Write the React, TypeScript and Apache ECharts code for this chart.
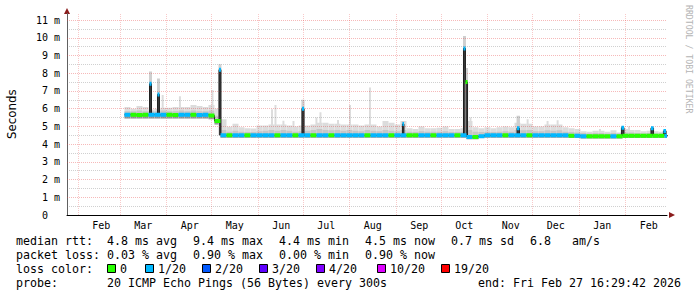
import React, { useEffect, useRef } from 'react';
import * as echarts from 'echarts';

// x values are days since 2025-01-01
const X_MIN = 23.67;
const X_MAX = 423.67;
const Y_MAX = 11.38;

const monthNames = ['Feb', 'Mar', 'Apr', 'May', 'Jun', 'Jul', 'Aug', 'Sep', 'Oct', 'Nov', 'Dec', 'Jan', 'Feb'];
const monthStarts = [31, 59, 90, 120, 151, 181, 212, 243, 273, 304, 334, 365, 396];
const MONTH_LABEL_OFFSET = 15.5;

const yMajor = [0, 1, 2, 3, 4, 5, 6, 7, 8, 9, 10, 11];
const yMinor = [0.5, 1.5, 2.5, 3.5, 4.5, 5.5, 6.5, 7.5, 8.5, 9.5, 10.5];

// 4-day buckets starting at day 62 (early March 2025); values in ms
const BUCKET0 = 62;
const BUCKET_DAYS = 4;

const smokeHi = [
  6.1, 6.0, 6.15, 6.1, 5.95, 6.0, 6.05, 6.05, 6.1, 6.1, 6.1, 6.2, 6.15, 6.1, 6.2, 6.0,
  5.4, 4.98, 5.15, 4.95, 4.9, 4.88, 5.05, 5.05, 5.1, 5.1, 5.1, 5.05, 5.0, 5.05, 5.05, 5.1,
  5.2, 5.2, 5.15, 5.15, 5.1, 5.1, 5.1, 5.05, 5.1, 5.1, 5.0, 5.3, 5.2, 5.1, 5.3, 4.9,
  4.85, 5.0, 4.9, 4.9, 4.92, 5.0, 4.85, 4.85, 4.9, 5.3, 4.95, 4.9, 4.95, 4.9, 4.95, 5.0,
  4.95, 5.2, 5.15, 5.15, 5.0, 5.0, 5.1, 5.1, 5.1, 4.95, 4.9, 4.85, 4.72, 4.7, 4.75, 4.75,
  4.7, 4.78, 4.65, 4.85, 4.8, 4.8, 4.72, 4.75, 4.72, 4.7, 4.75,
];
const smokeMid = [
  5.85, 5.85, 5.9, 5.85, 5.85, 5.85, 5.9, 5.85, 5.85, 5.9, 5.85, 5.9, 5.85, 5.85, 5.9, 5.6,
  4.8, 4.7, 4.75, 4.7, 4.68, 4.68, 4.72, 4.75, 4.8, 4.75, 4.8, 4.75, 4.7, 4.72, 4.75, 4.8,
  4.85, 4.8, 4.78, 4.8, 4.75, 4.8, 4.75, 4.72, 4.8, 4.75, 4.72, 4.8, 4.75, 4.72, 4.8, 4.7,
  4.68, 4.72, 4.7, 4.7, 4.7, 4.72, 4.68, 4.68, 4.7, 4.8, 4.7, 4.68, 4.7, 4.68, 4.7, 4.72,
  4.7, 4.8, 4.78, 4.8, 4.72, 4.72, 4.78, 4.75, 4.78, 4.7, 4.68, 4.65, 4.62, 4.6, 4.62, 4.62,
  4.6, 4.62, 4.6, 4.65, 4.65, 4.62, 4.6, 4.62, 4.6, 4.6, 4.62,
];
const smokeLo = [
  5.45, 5.45, 5.45, 5.45, 5.45, 5.45, 5.45, 5.45, 5.45, 5.45, 5.45, 5.45, 5.45, 5.45, 5.4, 5.1,
  4.36, 4.36, 4.36, 4.36, 4.36, 4.36, 4.36, 4.36, 4.36, 4.36, 4.36, 4.36, 4.36, 4.36, 4.36, 4.36,
  4.36, 4.36, 4.36, 4.36, 4.36, 4.36, 4.36, 4.36, 4.36, 4.36, 4.36, 4.36, 4.36, 4.36, 4.36, 4.36,
  4.36, 4.36, 4.36, 4.36, 4.36, 4.36, 4.36, 4.36, 4.36, 4.28, 4.28, 4.34, 4.36, 4.36, 4.36, 4.36,
  4.36, 4.36, 4.36, 4.36, 4.36, 4.36, 4.36, 4.36, 4.36, 4.36, 4.34, 4.34, 4.32, 4.32, 4.32, 4.32,
  4.32, 4.32, 4.32, 4.34, 4.34, 4.34, 4.34, 4.34, 4.34, 4.34, 4.34,
];
const median = [
  5.66, 5.65, 5.64, 5.65, 5.66, 5.65, 5.66, 5.65, 5.64, 5.65, 5.66, 5.65, 5.64, 5.65, 5.62, 5.3,
  4.5, 4.5, 4.5, 4.5, 4.5, 4.5, 4.5, 4.5, 4.5, 4.5, 4.5, 4.5, 4.5, 4.5, 4.5, 4.5,
  4.5, 4.5, 4.5, 4.5, 4.5, 4.5, 4.5, 4.5, 4.5, 4.5, 4.5, 4.5, 4.5, 4.5, 4.5, 4.5,
  4.5, 4.5, 4.5, 4.5, 4.5, 4.5, 4.5, 4.5, 4.5, 4.4, 4.4, 4.45, 4.5, 4.5, 4.5, 4.5,
  4.5, 4.5, 4.5, 4.5, 4.5, 4.5, 4.5, 4.5, 4.5, 4.5, 4.47, 4.47, 4.45, 4.45, 4.45, 4.45,
  4.45, 4.45, 4.45, 4.47, 4.47, 4.47, 4.47, 4.47, 4.47, 4.47, 4.47,
];
// 0 = no loss, 1 = 1/20
const loss = [
  1, 0, 0, 0, 1, 1, 1, 0, 0, 1, 1, 0, 1, 1, 0, 0,
  1, 0, 1, 1, 0, 1, 1, 1, 1, 0, 1, 1, 0, 1, 1, 0,
  1, 1, 0, 1, 1, 1, 1, 1, 0, 1, 1, 1, 0, 1, 1, 0,
  0, 1, 1, 0, 1, 1, 1, 0, 1, 1, 0, 1, 1, 1, 1, 0,
  1, 1, 1, 0, 1, 1, 1, 1, 1, 1, 0, 1, 1, 0, 0, 0,
  0, 1, 0, 0, 0, 0, 0, 0, 0, 0, 1,
];

// short median spikes
const spikeStart = [78.67, 84.0, 125.0, 180.3, 247.3, 288.0, 289.3, 323.7, 393.3, 413.0, 421.3];
const spikeEnd = [80.0, 85.3, 126.3, 181.7, 248.3, 289.3, 290.7, 325.3, 395.0, 414.7, 423.0];
const spikeMedian = [7.4, 6.8, 8.2, 6.0, 5.13, 9.4, 7.5, 4.9, 4.92, 4.9, 4.74];
const spikeSmoke = [8.1, 7.7, 8.5, 6.5, 5.3, 10.1, 8.3, 5.6, 5.0, 4.95, 4.8];
const spikeLoss = [1, 1, 1, 1, 1, 1, 0, 1, 1, 1, 1];

// narrow smoke peaks
const peakStart = [86.8, 98.3, 120.0, 159.7, 162.0, 167.3, 174.0, 189.3, 192.0, 203.7, 211.7, 225.0, 292.0, 330.1, 343.4, 350.1, 378.3, 397.7];
const peakTop = [6.77, 6.7, 7.05, 5.96, 6.2, 5.32, 5.3, 5.5, 5.8, 5.36, 6.2, 7.2, 5.5, 5.4, 5.3, 5.35, 4.85, 5.0];
const PEAK_DAYS = 1.3;

const lossColors = ['#26ff00', '#00b8ff', '#0059ff', '#5e00ff', '#7e00ff', '#dd00ff', '#ff0000'];
const lossLabels = ['0', '1/20', '2/20', '3/20', '4/20', '10/20', '19/20'];

const rttTexts = ['4.8 ms avg', '9.4 ms max', '4.4 ms min', '4.5 ms now', '0.7 ms sd', '6.8', 'am/s'];
const lossTexts = ['0.03 % avg', '0.90 % max', '0.00 % min', '0.90 % now'];
const probeText = '20 ICMP Echo Pings (56 Bytes) every 300s';
const endText = 'end: Fri Feb 27 16:29:42 2026';

const MONO = 'DejaVu Sans Mono';
const SMOKE_LIGHT = '#dcdcdc';
const SMOKE_MID = '#c6c6c6';
const SMOKE_DARK = '#9a9a9a';
const MAJOR_GRID = 'rgba(230,60,60,0.36)';
const MONTH_GRID = 'rgba(230,60,60,0.28)';
const MINOR_GRID = 'rgba(110,110,110,0.32)';

const N = median.length;
const medAt = (day: number) => {
  let i = Math.floor((day - BUCKET0) / BUCKET_DAYS);
  i = Math.max(0, Math.min(N - 1, i));
  return median[i];
};

function buildOption() {
  const bucketData = median.map((m, i) => [
    BUCKET0 + i * BUCKET_DAYS,
    BUCKET0 + (i + 1) * BUCKET_DAYS,
    smokeLo[i],
    smokeMid[i],
    smokeHi[i],
    m,
  ]);
  const peakData = peakStart.map((d, i) => [d, d + PEAK_DAYS, smokeMid[Math.floor((d - BUCKET0) / BUCKET_DAYS)], peakTop[i]]);
  const spikeData = spikeStart.map((s, i) => {
    const base = Math.min(medAt(s - 0.01), medAt(spikeEnd[i] + 0.01));
    return [s, spikeEnd[i], base, spikeMedian[i], spikeSmoke[i]];
  });
  const bandData: number[][] = median.map((m, i) => [BUCKET0 + i * BUCKET_DAYS, BUCKET0 + (i + 1) * BUCKET_DAYS, m, loss[i]]);
  spikeStart.forEach((s, i) => bandData.push([s, spikeEnd[i], spikeMedian[i], spikeLoss[i]]));

  const linePts: number[][] = [];
  for (let i = 0; i < N; i++) {
    const s = BUCKET0 + i * BUCKET_DAYS;
    const inside = spikeStart.some((ss, j) => s >= ss && s < spikeEnd[j]);
    if (!inside) linePts.push([s, median[i]]);
  }
  spikeStart.forEach((ss, j) => {
    linePts.push([ss, spikeMedian[j]]);
    const se = spikeEnd[j];
    if (!spikeStart.some((v) => Math.abs(v - se) < 1e-6)) linePts.push([se, medAt(se)]);
  });
  linePts.push([BUCKET0 + N * BUCKET_DAYS, median[N - 1]]);
  linePts.sort((a, b) => a[0] - b[0]);

  const gridLines: any[] = [];
  yMinor.forEach((v) => gridLines.push({ yAxis: v, lineStyle: { color: MINOR_GRID, type: [1, 1], width: 1 } }));
  yMajor.slice(1).forEach((v) => gridLines.push({ yAxis: v, lineStyle: { color: MAJOR_GRID, type: [1, 1], width: 1 } }));
  monthStarts.forEach((d) => gridLines.push({ xAxis: d, lineStyle: { color: MONTH_GRID, type: [1, 1], width: 1 } }));

  const graphic: any[] = [];
  // axis arrows
  graphic.push({ type: 'polygon', shape: { points: [[64, 14], [70, 14], [67, 8]] }, style: { fill: '#8b1c1c' }, silent: true });
  graphic.push({ type: 'polygon', shape: { points: [[669, 212], [669, 218], [675, 215]] }, style: { fill: '#8b1c1c' }, silent: true });
  // watermark
  graphic.push({
    type: 'text', x: 689, y: 5, rotation: -Math.PI / 2,
    style: { text: 'RRDTOOL / TOBI OETIKER', fontFamily: MONO, fontSize: 8.2, fill: '#b4b4b4', textAlign: 'left', textVerticalAlign: 'middle' },
    silent: true,
  });
  const rowY = [241, 255, 269, 283];
  const txt = (s: string, x: number, y: number) => ({
    type: 'text', x, y,
    style: { text: s, fontFamily: MONO, fontSize: 11.63, fill: '#000', textAlign: 'left', textVerticalAlign: 'middle' },
    silent: true,
  });
  graphic.push(txt('median rtt:', 16, rowY[0]));
  const rttX = [107, 193, 279, 365, 451, 530, 572];
  rttTexts.forEach((s, i) => graphic.push(txt(s, rttX[i], rowY[0])));
  graphic.push(txt('packet loss:', 16, rowY[1]));
  const lossX = [107, 193, 279, 365];
  lossTexts.forEach((s, i) => graphic.push(txt(s, lossX[i], rowY[1])));
  graphic.push(txt('loss color:', 16, rowY[2]));
  const boxX = [107.5, 145.5, 202.5, 259.5, 316.5, 377.5, 441.5];
  lossLabels.forEach((s, i) => {
    graphic.push({ type: 'rect', shape: { x: boxX[i], y: rowY[2] - 4.5, width: 8, height: 8 }, style: { fill: lossColors[i], stroke: '#000', lineWidth: 1 }, silent: true });
    graphic.push(txt(s, boxX[i] + 12.5, rowY[2]));
  });
  graphic.push(txt('probe:', 16, rowY[3]));
  graphic.push(txt(probeText, 107, rowY[3]));
  graphic.push(txt(endText, 478, rowY[3]));

  return {
    animation: false,
    backgroundColor: '#ffffff',
    textStyle: { fontFamily: MONO },
    grid: { left: 67, top: 13.3, width: 600, height: 201.7, containLabel: false, outerBoundsMode: 'none' },
    xAxis: {
      type: 'value',
      min: X_MIN,
      max: X_MAX,
      axisLine: { show: true, lineStyle: { color: '#000', width: 1 } },
      axisTick: { show: false },
      splitLine: { show: false },
      axisLabel: {
        customValues: monthStarts.map((d) => d + MONTH_LABEL_OFFSET),
        formatter: (v: number) => {
          const i = monthStarts.findIndex((d) => Math.abs(d + MONTH_LABEL_OFFSET - v) < 0.01);
          return i >= 0 ? monthNames[i] : '';
        },
        fontFamily: MONO,
        fontSize: 10,
        color: '#000',
        margin: 5,
      },
    },
    yAxis: {
      type: 'value',
      min: 0,
      max: Y_MAX,
      interval: 1,
      name: 'Seconds',
      nameLocation: 'middle',
      nameRotate: 90,
      nameGap: 49,
      nameTextStyle: { fontFamily: 'DejaVu Sans', fontSize: 11.8, color: '#000' },
      axisLine: { show: true, lineStyle: { color: '#606060', width: 1 } },
      axisTick: { show: false },
      splitLine: { show: false },
      minorSplitLine: { show: false },
      axisLabel: {
        formatter: (v: number) => (v === 0 ? '0\u00a0\u00a0' : Number.isInteger(v) ? `${v} m` : ''),
        showMaxLabel: false,
        fontFamily: MONO,
        fontSize: 10,
        color: '#000',
        margin: 7,
      },
    },
    series: [
      {
        type: 'custom',
        name: 'peaks',
        z: 1,
        clip: true,
        data: peakData,
        renderItem: (params: any, api: any) => {
          const x0 = api.coord([api.value(0), 0])[0];
          const x1 = api.coord([api.value(1), 0])[0];
          const yb = api.coord([0, api.value(2)])[1];
          const yt = api.coord([0, api.value(3)])[1];
          return { type: 'rect', shape: { x: x0, y: yt, width: x1 - x0, height: yb - yt }, style: { fill: SMOKE_LIGHT } };
        },
        markLine: { silent: true, symbol: ['none', 'none'], z: 2, label: { show: false }, data: gridLines, animation: false },
      },
      {
        type: 'custom',
        name: 'smoke',
        z: 1,
        clip: true,
        data: bucketData,
        renderItem: (params: any, api: any) => {
          const x0 = api.coord([api.value(0), 0])[0];
          const x1 = api.coord([api.value(1), 0])[0];
          const yLo = api.coord([0, api.value(2)])[1];
          const yMid = api.coord([0, api.value(3)])[1];
          const yHi = api.coord([0, api.value(4)])[1];
          const yMed = api.coord([0, api.value(5)])[1];
          const w = x1 - x0;
          return {
            type: 'group',
            children: [
              { type: 'rect', shape: { x: x0, y: yHi, width: w, height: yLo - yHi }, style: { fill: SMOKE_LIGHT } },
              { type: 'rect', shape: { x: x0, y: yMid, width: w, height: yMed - yMid }, style: { fill: SMOKE_MID } },
              { type: 'rect', shape: { x: x0, y: yMed, width: w, height: yLo - yMed }, style: { fill: SMOKE_DARK } },
            ],
          };
        },
      },
      {
        type: 'custom',
        name: 'spikes',
        z: 1,
        clip: true,
        data: spikeData,
        renderItem: (params: any, api: any) => {
          const x0 = api.coord([api.value(0), 0])[0];
          const x1 = api.coord([api.value(1), 0])[0];
          const yb = api.coord([0, api.value(2)])[1];
          const ym = api.coord([0, api.value(3)])[1];
          const yt = api.coord([0, api.value(4)])[1];
          const w = x1 - x0;
          return {
            type: 'group',
            children: [
              { type: 'rect', shape: { x: x0 - 0.5, y: yt, width: w + 1, height: yb - yt }, style: { fill: '#cfcfcf' } },
              { type: 'rect', shape: { x: x0, y: ym, width: w, height: yb - ym }, style: { fill: '#3a3a3a' } },
            ],
          };
        },
      },
      {
        type: 'line',
        name: 'median',
        z: 3,
        step: 'end',
        clip: true,
        showSymbol: false,
        symbol: 'none',
        data: linePts,
        lineStyle: { color: '#202020', width: 1 },
      },
      {
        type: 'custom',
        name: 'lossband',
        z: 4,
        clip: true,
        data: bandData,
        renderItem: (params: any, api: any) => {
          const x0 = api.coord([api.value(0), 0])[0];
          const x1 = api.coord([api.value(1), 0])[0];
          const ym = api.coord([0, api.value(2)])[1];
          const c = lossColors[api.value(3)];
          return { type: 'rect', shape: { x: x0, y: ym - 2, width: x1 - x0, height: 4 }, style: { fill: c } };
        },
      },
    ],
    graphic,
  };
}

export default function App() {
  const ref = useRef<HTMLDivElement>(null);
  useEffect(() => {
    document.body.style.margin = '0';
    const chart = echarts.init(ref.current!, undefined, { renderer: 'svg', width: 697, height: 297 });
    chart.setOption(buildOption() as any);
    return () => chart.dispose();
  }, []);
  return <div ref={ref} style={{ position: 'absolute', left: 0, top: 0, width: 697, height: 297, background: '#fff' }} />;
}
